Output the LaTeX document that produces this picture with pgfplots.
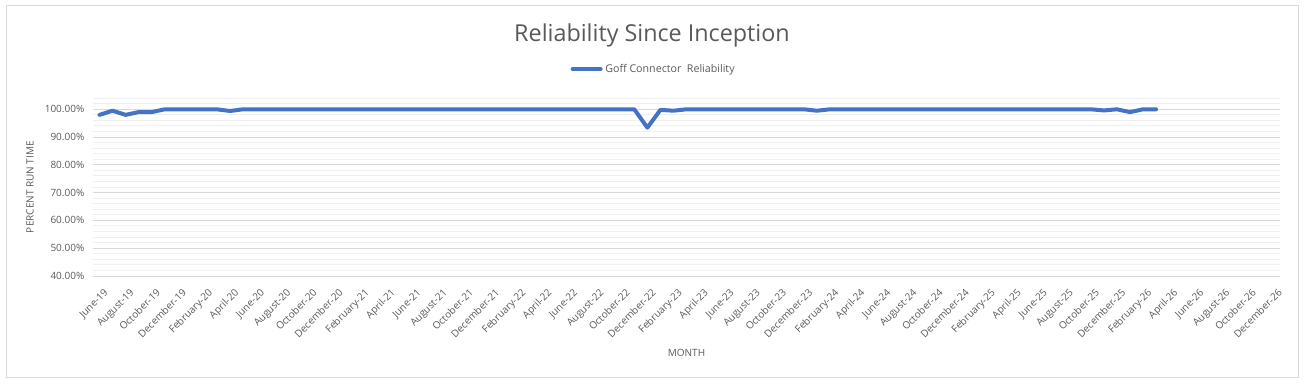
\documentclass[border=0pt]{standalone}
\usepackage{fontspec}
\setmainfont{Open Sans}
\usepackage{pgfplots}
\pgfplotsset{compat=1.18}
\definecolor{txt}{HTML}{595959}
\definecolor{ser}{HTML}{4472C4}
\definecolor{majg}{HTML}{D9D9D9}
\definecolor{ming}{HTML}{F0F0F0}
\begin{document}
\begin{tikzpicture}
\useasboundingbox (0,0) rectangle (981pt,287.25pt);
\draw[majg, line width=0.75pt] (4.5pt,4.5pt) rectangle (973.7pt,282.75pt);
\node[text=txt, font=\fontsize{17.5}{20}\selectfont] at (489pt,261pt) {Reliability Since Inception};
\begin{axis}[
  at={(69.75pt,80.25pt)}, anchor=south west,
  width=890.25pt, height=133.35pt, scale only axis,
  xmin=-0.5, xmax=90.5, ymin=40, ymax=104,
  axis line style={draw=none},
  major tick length=0pt, minor tick length=0pt,
  xtick={0,2,...,90},
  xticklabels={June-19,August-19,October-19,December-19,
    February-20,April-20,June-20,August-20,October-20,December-20,
    February-21,April-21,June-21,August-21,October-21,December-21,
    February-22,April-22,June-22,August-22,October-22,December-22,
    February-23,April-23,June-23,August-23,October-23,December-23,
    February-24,April-24,June-24,August-24,October-24,December-24,
    February-25,April-25,June-25,August-25,October-25,December-25,
    February-26,April-26,June-26,August-26,October-26,December-26},
  ytick={40,50,...,100},
  minor ytick={40,42,...,104},
  ymajorgrids, yminorgrids,
  major grid style={majg, line width=0.75pt},
  minor grid style={ming, line width=0.75pt},
  /pgf/number format/assume math mode=true,
  yticklabel={\pgfmathprintnumber[fixed,fixed zerofill,precision=2]{\tick}\%},
  yticklabel style={font=\fontsize{7.5}{9}\selectfont, text=txt, xshift=-3pt},
  xticklabel style={font=\fontsize{7.5}{9}\selectfont, text=txt, rotate=45, anchor=north east, yshift=-5pt, xshift=-1pt},
  ylabel={PERCENT RUN TIME},
  ylabel style={at={(axis description cs:-0.053,0.5)}, anchor=center, font=\fontsize{7.5}{9}\selectfont, text=txt},
  xlabel={MONTH},
  xlabel style={at={(axis description cs:0.5,-0.43)}, anchor=center, font=\fontsize{7.5}{9}\selectfont, text=txt},
  legend style={at={(axis description cs:0.4726,1.164)}, anchor=center, draw=none, fill=none, font=\fontsize{8}{10}\selectfont, text=txt, inner sep=0pt},
  legend image code/.code={\draw[ser, line width=3pt] (0pt,0pt) -- (21pt,0pt);},
]
\addplot[ser, line width=3pt, line join=round, line cap=round] coordinates {
(0,98.0) (1,99.5) (2,98.0) (3,99.0) (4,99.0) (5,100) (6,100) (7,100) (8,100) (9,100)
(10,99.4) (11,100) (12,100) (13,100) (14,100) (15,100) (16,100) (17,100) (18,100) (19,100)
(20,100) (21,100) (22,100) (23,100) (24,100) (25,100) (26,100) (27,100) (28,100) (29,100)
(30,100) (31,100) (32,100) (33,100) (34,100) (35,100) (36,100) (37,100) (38,100) (39,100)
(40,100) (41,100) (42,93.4) (43,99.8) (44,99.5) (45,100) (46,100) (47,100) (48,100) (49,100)
(50,100) (51,100) (52,100) (53,100) (54,100) (55,99.5) (56,100) (57,100) (58,100) (59,100)
(60,100) (61,100) (62,100) (63,100) (64,100) (65,100) (66,100) (67,100) (68,100) (69,100)
(70,100) (71,100) (72,100) (73,100) (74,100) (75,100) (76,100) (77,99.6) (78,100) (79,99.0)
(80,100) (81,100)
};
\addlegendentry{Goff Connector\ \ Reliability}
\end{axis}
\end{tikzpicture}
\end{document}
